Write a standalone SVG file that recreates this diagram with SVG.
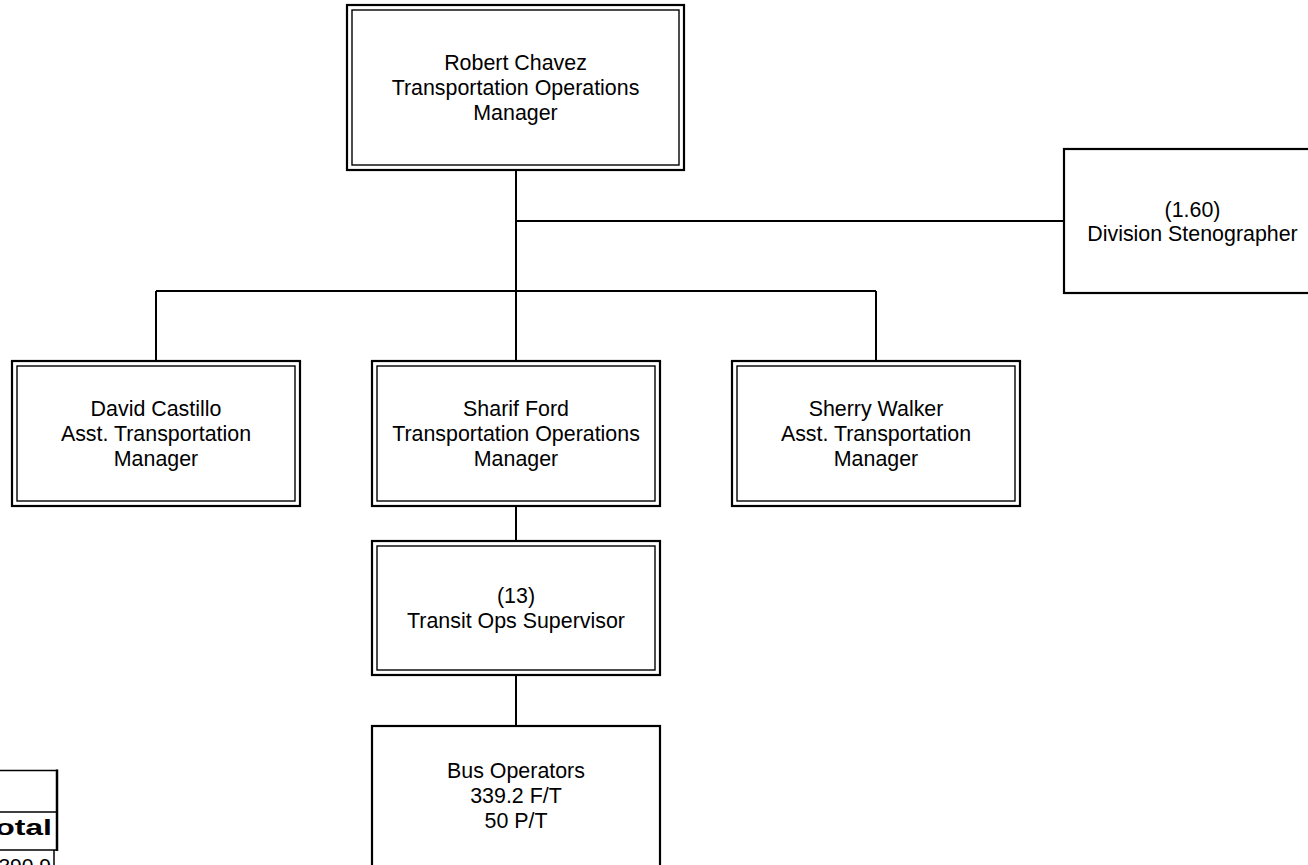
<svg xmlns="http://www.w3.org/2000/svg" width="1308" height="865" viewBox="0 0 1308 865">
<style>
.o{fill:#fff;stroke:#000;stroke-width:2.2}
.i{fill:none;stroke:#000;stroke-width:1.4}
.t{font-family:"Liberation Sans",Arial,sans-serif;font-size:21.4px;fill:#000;text-anchor:middle}
.c{stroke:#000;stroke-width:2;fill:none}
.tb{stroke:#000;fill:none}
</style>
<rect width="1308" height="865" fill="#fff"/>
<g id="connectors">
<path class="c" d="M516 170V361M516 221H1064M156 291H876M156 291V361M876 291V361M516 506V541M516 675V726"/>
</g>
<g id="robert">
<rect class="o" x="347" y="5" width="337" height="165"/>
<rect class="i" x="352" y="10" width="327" height="155"/>
<text class="t" x="515.5" y="70">Robert Chavez</text>
<text class="t" x="515.5" y="95">Transportation Operations</text>
<text class="t" x="515.5" y="120">Manager</text>
</g>
<g id="stenographer">
<rect class="o" x="1064" y="149" width="258" height="144"/>
<text class="t" x="1192.5" y="217">(1.60)</text>
<text class="t" x="1192.5" y="241">Division Stenographer</text>
</g>
<g id="david">
<rect class="o" x="12" y="361" width="288" height="145"/>
<rect class="i" x="17" y="366" width="278" height="135"/>
<text class="t" x="156" y="416">David Castillo</text>
<text class="t" x="156" y="441">Asst. Transportation</text>
<text class="t" x="156" y="466">Manager</text>
</g>
<g id="sharif">
<rect class="o" x="372" y="361" width="288" height="145"/>
<rect class="i" x="377" y="366" width="278" height="135"/>
<text class="t" x="516" y="416">Sharif Ford</text>
<text class="t" x="516" y="441">Transportation Operations</text>
<text class="t" x="516" y="466">Manager</text>
</g>
<g id="sherry">
<rect class="o" x="732" y="361" width="288" height="145"/>
<rect class="i" x="737" y="366" width="278" height="135"/>
<text class="t" x="876" y="416">Sherry Walker</text>
<text class="t" x="876" y="441">Asst. Transportation</text>
<text class="t" x="876" y="466">Manager</text>
</g>
<g id="supervisor">
<rect class="o" x="372" y="541" width="288" height="134"/>
<rect class="i" x="377" y="546" width="278" height="124"/>
<text class="t" x="516" y="603">(13)</text>
<text class="t" x="516" y="628">Transit Ops Supervisor</text>
</g>
<g id="operators">
<rect class="o" x="372" y="726" width="288" height="150"/>
<text class="t" x="516" y="778">Bus Operators</text>
<text class="t" x="516" y="803">339.2 F/T</text>
<text class="t" x="516" y="828">50 P/T</text>
</g>
<g id="table">
<path class="tb" stroke-width="1.5" d="M-2 770.5H58M-2 812H56M-2 850H58"/>
<path class="tb" stroke-width="2.5" d="M57 769.5V851"/>
<path class="tb" stroke-width="1.5" d="M54 850V866"/>
<text x="52" y="835" font-family="Liberation Sans,Arial,sans-serif" font-weight="bold" font-size="22" text-anchor="end" textLength="74" lengthAdjust="spacingAndGlyphs">Total</text>
<text x="51" y="873" font-family="Liberation Sans,Arial,sans-serif" font-size="21" text-anchor="end">390.9</text>
</g>
</svg>
